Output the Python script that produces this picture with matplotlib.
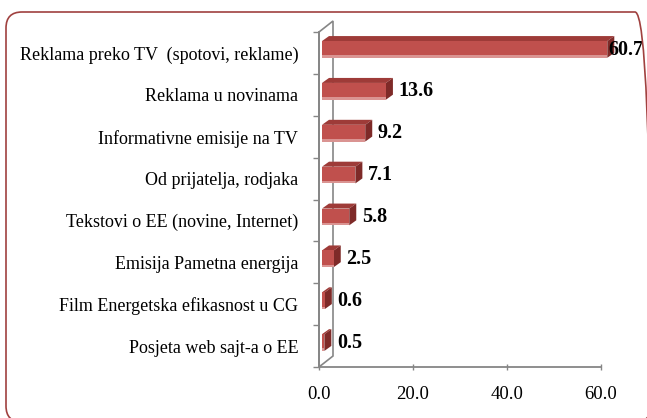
import matplotlib.pyplot as plt
from matplotlib.patches import Polygon, FancyBboxPatch
from matplotlib.transforms import IdentityTransform

categories = [
    "Reklama preko TV  (spotovi, reklame)",
    "Reklama u novinama",
    "Informativne emisije na TV",
    "Od prijatelja, rodjaka",
    "Tekstovi o EE (novine, Internet)",
    "Emisija Pametna energija",
    "Film Energetska efikasnost u CG",
    "Posjeta web sajt-a o EE",
]
values = [60.7, 13.6, 9.2, 7.1, 5.8, 2.5, 0.6, 0.5]
xticks = [0, 20, 40, 60]

plt.rcParams['font.family'] = ['Liberation Serif', 'DejaVu Serif']

W, H = 647, 418
fig = plt.figure(figsize=(W / 100, H / 100), dpi=100)
ax = fig.add_axes([319 / W, 51 / H, 282 / W, 335 / H])
ax.set_xlim(0, 60)
ax.set_ylim(len(values) - 0.5, -0.5)

grey = '#868686'
for s in ['top', 'right']:
    ax.spines[s].set_visible(False)
for s in ['left', 'bottom']:
    ax.spines[s].set_color(grey)
    ax.spines[s].set_linewidth(1.3)

ax.set_xticks(xticks)
ax.set_xticklabels([f"{t:.1f}" for t in xticks], fontsize=13.5)
ax.tick_params(axis='x', direction='inout', length=5, width=1, color=grey, pad=11)

ax.set_yticks(range(len(categories)))
ax.set_yticklabels(categories, fontsize=13)
ax.set_yticks([i - 0.5 for i in range(len(categories) + 1)], minor=True)
ax.tick_params(axis='y', which='major', length=0, pad=15)
ax.tick_params(axis='y', which='minor', length=4.5, width=1, color=grey)

ident = IdentityTransform()


def px(x, y):
    return ax.transData.transform((x, y))


# left wall of the 3d chart
wall = (14, 11)
(wx, wy0) = px(0, len(values) - 0.5)
(_, wy1) = px(0, -0.5)
back = [(wx, wy0), (wx + wall[0], wy0 + wall[1]),
        (wx + wall[0], wy1 + wall[1]), (wx, wy1)]
ax.add_patch(Polygon(back, closed=True, fill=False, edgecolor=grey,
                     linewidth=1.2, transform=ident, clip_on=False, zorder=1))

# bars
front = (3, 3.5)
depth = (7, 5)
half = 0.2
for i, v in enumerate(values):
    x0, y0 = px(0, i + half)
    x1, y1 = px(v, i - half)
    x0 += front[0]; x1 += front[0]
    y0 += front[1]; y1 += front[1]
    dx, dy = depth
    top = [(x0, y1), (x1, y1), (x1 + dx, y1 + dy), (x0 + dx, y1 + dy)]
    side = [(x1, y0), (x1 + dx, y0 + dy), (x1 + dx, y1 + dy), (x1, y1)]
    face = [(x0, y0), (x1, y0), (x1, y1), (x0, y1)]
    low = [(x0, y0), (x1, y0), (x1, y0 + 2.5), (x0, y0 + 2.5)]
    for poly, col in [(top, '#9E3B38'), (side, '#7E2A28'),
                      (face, '#C0504D'), (low, '#DA9492')]:
        ax.add_patch(Polygon(poly, closed=True, facecolor=col, edgecolor='none',
                             transform=ident, clip_on=False, zorder=3))
    ax.text(min(v + 3.3, 61.5), i - 0.08, f"{v:.1f}", fontsize=14.5,
            fontweight='bold', va='center', ha='left', zorder=4, clip_on=False)

# rounded frame
frame = FancyBboxPatch((6, -4), 645, 410, boxstyle="round,pad=0,rounding_size=16",
                       facecolor='none', edgecolor='#A0413F', linewidth=1.2,
                       transform=ident)
fig.add_artist(frame)

fig.savefig('out.png', dpi=100)
